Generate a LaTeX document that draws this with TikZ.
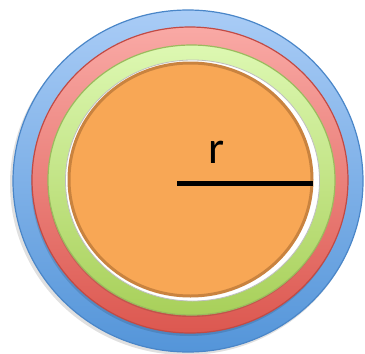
\documentclass[tikz,border=0pt]{standalone}
\usepackage{fontspec}
\setmainfont{Carlito}
\usepackage{xcolor}
\usetikzlibrary{positioning}

\definecolor{blueTop}{HTML}{A9CCF6}
\definecolor{blueBot}{HTML}{5495D9}
\definecolor{blueEdge}{HTML}{4A86C8}
\definecolor{redTop}{HTML}{F9A9A5}
\definecolor{redBot}{HTML}{DC5850}
\definecolor{redEdge}{HTML}{C24A44}
\definecolor{greenTop}{HTML}{DDF8B2}
\definecolor{greenBot}{HTML}{A8D05A}
\definecolor{greenEdge}{HTML}{9BBB5E}
\definecolor{orangeFill}{HTML}{F8A755}
\definecolor{orangeEdge}{HTML}{C9833F}

\begin{document}
\begin{tikzpicture}[x=1pt, y=-1pt,
  ring/.style={line width=1.2pt},
  shade/.style={fill=black, opacity=0.12}]
\useasboundingbox (0,0) rectangle (365,354);
% soft shadows
\fill[shade] (186,184) ellipse (176 and 171);
% outer rings
\draw[ring, draw=blueEdge, top color=blueTop, bottom color=blueBot] (188,181) ellipse (175 and 171);
\fill[shade] (189,183) ellipse (158 and 153);
\draw[ring, draw=redEdge, top color=redTop, bottom color=redBot] (190,180) ellipse (158 and 153);
\fill[shade] (191,182) ellipse (143.5 and 135);
\draw[ring, draw=greenEdge, top color=greenTop, bottom color=greenBot] (191.5,180) ellipse (143.5 and 135);
% white gap
\draw[line width=0.8pt, draw=black!25, fill=white] (192.5,180.5) ellipse (127 and 120.5);
% core
\draw[line width=3pt, draw=orangeEdge, fill=orangeFill] (190.5,179.5) ellipse (121.5 and 116.5);
% radius
\coordinate (centre) at (177,183);
\coordinate (rim) at (313,183);
\draw[line width=5pt, black] (centre) -- (rim);
\node[font=\fontsize{46}{46}\selectfont, inner sep=0pt] (rlabel) at (217,152) {r};
\end{tikzpicture}
\end{document}
